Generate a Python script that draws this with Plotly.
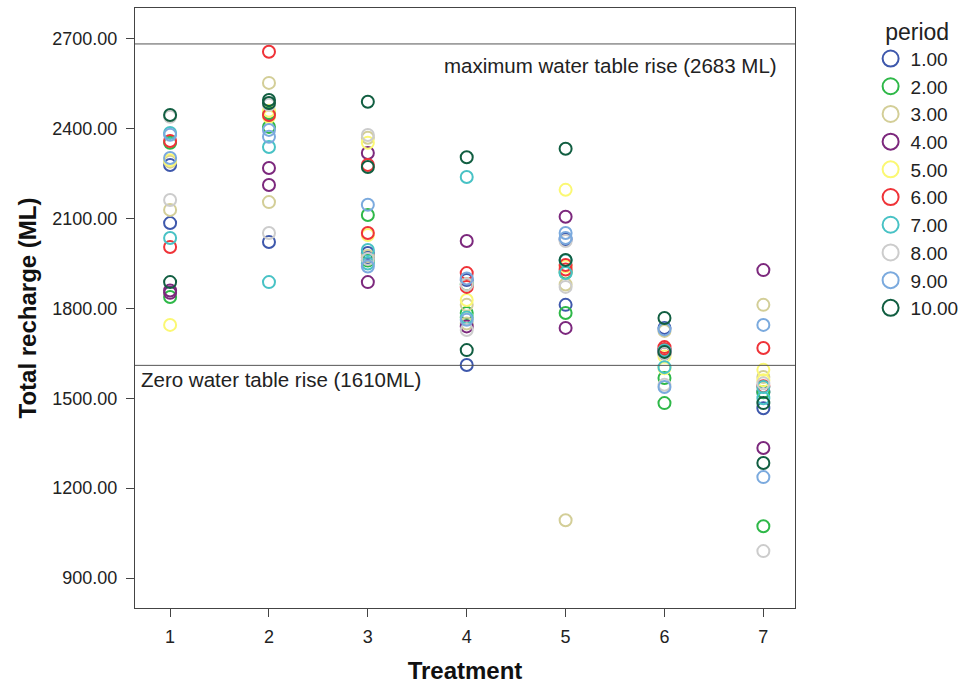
import plotly.graph_objects as go

treatments = [1, 2, 3, 4, 5, 6, 7]
periods = ["1.00", "2.00", "3.00", "4.00", "5.00", "6.00", "7.00", "8.00", "9.00", "10.00"]
colors = ["#3E58AC", "#2EB848", "#D3CE97", "#7C287D", "#FBF873",
          "#EF3338", "#48C2C5", "#CCCCCC", "#7BAADE", "#115E41"]

# recharge per period, two replicates per treatment (treatments 1..7)
rep_a = {
    "1.00":  [2279, 2022, 1985, 1611, 1812, 1735, 1467],
    "2.00":  [2353, 2453, 2112, 1785, 1785, 1568, 1073],
    "3.00":  [2290, 2553, 2370, 1812, 1093, 1725, 1812],
    "4.00":  [1852, 2269, 2319, 2025, 2106, 1660, 1928],
    "5.00":  [1745, 2460, 2353, 1828, 2196, 1640, 1595],
    "6.00":  [2359, 2657, 2279, 1918, 1945, 1671, 1668],
    "7.00":  [2386, 2339, 1995, 2239, 1918, 1604, 1538],
    "8.00":  [2162, 2052, 2379, 1728, 1872, 1545, 990],
    "9.00":  [2302, 2396, 2146, 1762, 2052, 1730, 1745],
    "10.00": [2446, 2496, 2490, 2305, 2333, 1768, 1484],
}
rep_b = {
    "1.00":  [2085, 2450, 1970, 1895, 2030, 1660, 1520],
    "2.00":  [1838, 2406, 1960, 1880, 1920, 1484, 1521],
    "3.00":  [2129, 2155, 1975, 1750, 1880, 1650, 1571],
    "4.00":  [1860, 2212, 1888, 1740, 1735, 1650, 1334],
    "5.00":  [2295, 2440, 2045, 1770, 1940, 1600, 1560],
    "6.00":  [2005, 2446, 2052, 1872, 1930, 1665, 1540],
    "7.00":  [2035, 1888, 1950, 1770, 1960, 1660, 1500],
    "8.00":  [2440, 2480, 1965, 1880, 2025, 1650, 1550],
    "9.00":  [2380, 2373, 1940, 1900, 2035, 1538, 1237],
    "10.00": [1888, 2486, 2272, 1661, 1962, 1655, 1284],
}
max_rise = 2683
zero_rise = 1610
y_ticks = [900, 1200, 1500, 1800, 2100, 2400, 2700]

fig = go.Figure()
for p, c in zip(periods, colors):
    fig.add_trace(go.Scatter(
        x=treatments + treatments,
        y=rep_a[p] + rep_b[p],
        mode="markers",
        name=p,
        showlegend=False,
        marker=dict(symbol="circle-open", size=12, color=c, line=dict(width=2, color=c)),
    ))
for p, c in zip(periods, colors):
    fig.add_trace(go.Scatter(
        x=[None], y=[None], mode="markers", name=p, showlegend=True,
        marker=dict(symbol="circle-open", size=16, color=c, line=dict(width=2, color=c)),
    ))

fig.add_shape(type="line", xref="paper", x0=0, x1=1, yref="y", y0=max_rise, y1=max_rise,
              line=dict(color="#555555", width=1))
fig.add_shape(type="line", xref="paper", x0=0, x1=1, yref="y", y0=zero_rise, y1=zero_rise,
              line=dict(color="#555555", width=1))
fig.add_annotation(xref="paper", x=0.976, yref="y", y=max_rise, text="maximum water table rise (2683 ML)",
                   showarrow=False, xanchor="right", yanchor="top", yshift=-8,
                   font=dict(size=20.5, color="#222222"))
fig.add_annotation(xref="paper", x=0.006, yref="y", y=zero_rise, text="Zero water table rise (1610ML)",
                   showarrow=False, xanchor="left", yanchor="top", yshift=-1,
                   font=dict(size=20.5, color="#222222"))

fig.update_layout(
    width=962, height=688,
    margin=dict(l=135, r=167, t=8, b=80, autoexpand=False),
    plot_bgcolor="white", paper_bgcolor="white",
    font=dict(family="Liberation Sans, Arial, sans-serif", size=18, color="#222222"),
    showlegend=True,
    legend=dict(title=dict(text="period", side="top center"), xref="container", x=0.905, xanchor="left",
                y=0.997, yanchor="top",
                font=dict(size=19), tracegroupgap=0, itemwidth=30),
    xaxis=dict(range=[0.645, 7.32], tickvals=treatments, ticks="outside", ticklen=8,
               ticklabelstandoff=4,
               showline=True, linecolor="#444444", linewidth=1, mirror=True, showgrid=False,
               zeroline=False, tickfont=dict(size=18),
               title=dict(text="<b>Treatment</b>", font=dict(size=24, color="#111111"), standoff=16)),
    yaxis=dict(range=[800, 2803], tickvals=y_ticks, tickformat=".2f", ticks="outside", ticklen=8,
               ticklabelstandoff=5,
               showline=True, linecolor="#444444", linewidth=1, mirror=True, showgrid=False,
               zeroline=False, tickfont=dict(size=18),
               title=dict(text="<b>Total recharge (ML)</b>", font=dict(size=24, color="#111111"), standoff=8)),
)

fig.write_html("out.html")
